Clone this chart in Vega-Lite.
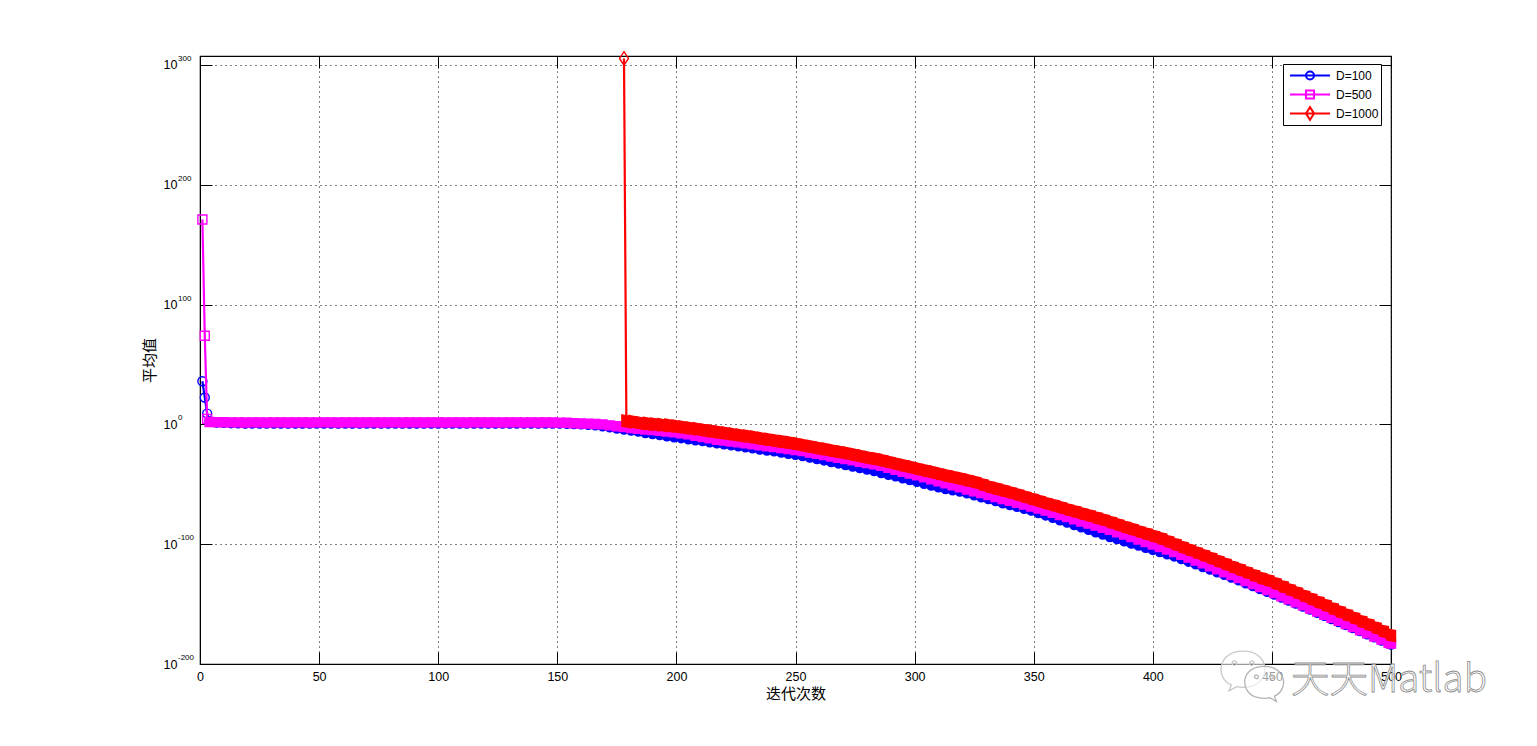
{"$schema":"https://vega.github.io/schema/vega-lite/v6.json","width":1191,"height":608,"autosize":"none","padding":{"left":200,"top":56,"right":146,"bottom":82},"background":"white",
"config":{"view":{"stroke":"#000","strokeWidth":1.2},"font":"Liberation Sans"},
"datasets":{
"d100":[{"i":1,"v":1e36},{"i":2,"v":3e22},{"i":3,"v":1e9},{"i":4,"v":2e2},{"i":7,"v":4e1},{"i":10,"v":2e1},{"i":13,"v":1e1},{"i":16,"v":8},{"i":19,"v":6},{"i":22,"v":6},{"i":25,"v":5},{"i":28,"v":6},{"i":31,"v":6},{"i":34,"v":5},{"i":37,"v":6},{"i":40,"v":6},{"i":43,"v":5},{"i":46,"v":6},{"i":49,"v":6},{"i":52,"v":5},{"i":55,"v":6},{"i":58,"v":6},{"i":61,"v":6},{"i":64,"v":5},{"i":67,"v":6},{"i":70,"v":6},{"i":73,"v":5},{"i":76,"v":6},{"i":79,"v":6},{"i":82,"v":5},{"i":85,"v":6},{"i":88,"v":6},{"i":91,"v":5},{"i":94,"v":6},{"i":97,"v":6},{"i":100,"v":5},{"i":103,"v":6},{"i":106,"v":6},{"i":109,"v":5},{"i":112,"v":6},{"i":115,"v":6},{"i":118,"v":5},{"i":121,"v":6},{"i":124,"v":5},{"i":127,"v":6},{"i":130,"v":6},{"i":133,"v":5},{"i":136,"v":5},{"i":139,"v":6},{"i":142,"v":5},{"i":145,"v":5},{"i":148,"v":5},{"i":151,"v":4},{"i":154,"v":3},{"i":157,"v":2},{"i":160,"v":1},{"i":163,"v":0.5},{"i":166,"v":0.15},{"i":169,"v":0.03},{"i":172,"v":4e-3},{"i":175,"v":4e-4},{"i":178,"v":5e-5},{"i":181,"v":6e-6},{"i":184,"v":1e-6},{"i":187,"v":6e-8},{"i":190,"v":1e-8},{"i":193,"v":1e-9},{"i":196,"v":1.3e-10},{"i":199,"v":1.6e-11},{"i":202,"v":3e-12},{"i":205,"v":4e-13},{"i":208,"v":5e-14},{"i":211,"v":1e-14},{"i":214,"v":1e-15},{"i":217,"v":1.6e-16},{"i":220,"v":2.5e-17},{"i":223,"v":3e-18},{"i":226,"v":5e-19},{"i":229,"v":8e-20},{"i":232,"v":1e-20},{"i":235,"v":1e-21},{"i":238,"v":1.6e-22},{"i":241,"v":3e-23},{"i":244,"v":3e-24},{"i":247,"v":3e-25},{"i":250,"v":4e-26},{"i":253,"v":4e-27},{"i":256,"v":2e-28},{"i":259,"v":1e-29},{"i":262,"v":8e-31},{"i":265,"v":3e-32},{"i":268,"v":2.5e-33},{"i":271,"v":1e-34},{"i":274,"v":6e-36},{"i":277,"v":3e-37},{"i":280,"v":2e-38},{"i":283,"v":1e-39},{"i":286,"v":2.5e-41},{"i":289,"v":1e-42},{"i":292,"v":4e-44},{"i":295,"v":1e-45},{"i":298,"v":4e-47},{"i":301,"v":1e-48},{"i":304,"v":2.5e-50},{"i":307,"v":1e-51},{"i":310,"v":3e-53},{"i":313,"v":1e-54},{"i":316,"v":1e-55},{"i":319,"v":1e-56},{"i":322,"v":2.5e-58},{"i":325,"v":6e-60},{"i":328,"v":1.6e-61},{"i":331,"v":4e-63},{"i":334,"v":1e-64},{"i":337,"v":1.6e-66},{"i":340,"v":5e-68},{"i":343,"v":1.3e-69},{"i":346,"v":4e-71},{"i":349,"v":1e-72},{"i":352,"v":1e-74},{"i":355,"v":1e-76},{"i":358,"v":1e-78},{"i":361,"v":1e-80},{"i":364,"v":1e-82},{"i":367,"v":1e-84},{"i":370,"v":1e-86},{"i":373,"v":1e-88},{"i":376,"v":1e-90},{"i":379,"v":1e-92},{"i":382,"v":1e-94},{"i":385,"v":1.6e-96},{"i":388,"v":2.5e-98},{"i":391,"v":4e-100},{"i":394,"v":6e-102},{"i":397,"v":1e-103},{"i":400,"v":1.6e-105},{"i":403,"v":2.5e-107},{"i":406,"v":4e-109},{"i":409,"v":6e-111},{"i":412,"v":4e-113},{"i":415,"v":2.5e-115},{"i":418,"v":1.6e-117},{"i":421,"v":1e-119},{"i":424,"v":6e-122},{"i":427,"v":4e-124},{"i":430,"v":2.5e-126},{"i":433,"v":1.6e-128},{"i":436,"v":6e-131},{"i":439,"v":2.5e-133},{"i":442,"v":1e-135},{"i":445,"v":4e-138},{"i":448,"v":1.6e-140},{"i":451,"v":1e-142},{"i":454,"v":2.5e-145},{"i":457,"v":1e-147},{"i":460,"v":2.5e-150},{"i":463,"v":1e-152},{"i":466,"v":2.5e-155},{"i":469,"v":6e-158},{"i":472,"v":1.6e-160},{"i":475,"v":4e-163},{"i":478,"v":1e-165},{"i":481,"v":4e-168},{"i":484,"v":1e-170},{"i":487,"v":2.5e-173},{"i":490,"v":6e-176},{"i":493,"v":1.6e-178},{"i":496,"v":4e-181},{"i":499,"v":1e-183},{"i":500,"v":1.6e-184}],
"d500":[{"i":1,"v":1e171},{"i":2,"v":1e74},{"i":3,"v":4e4},{"i":4,"v":1e2},{"i":7,"v":8e1},{"i":10,"v":6e1},{"i":13,"v":5e1},{"i":16,"v":5e1},{"i":19,"v":4e1},{"i":22,"v":5e1},{"i":25,"v":5e1},{"i":28,"v":4e1},{"i":31,"v":5e1},{"i":34,"v":5e1},{"i":37,"v":4e1},{"i":40,"v":5e1},{"i":43,"v":5e1},{"i":46,"v":4e1},{"i":49,"v":5e1},{"i":52,"v":5e1},{"i":55,"v":5e1},{"i":58,"v":4e1},{"i":61,"v":5e1},{"i":64,"v":5e1},{"i":67,"v":4e1},{"i":70,"v":5e1},{"i":73,"v":5e1},{"i":76,"v":4e1},{"i":79,"v":5e1},{"i":82,"v":5e1},{"i":85,"v":4e1},{"i":88,"v":5e1},{"i":91,"v":5e1},{"i":94,"v":4e1},{"i":97,"v":5e1},{"i":100,"v":5e1},{"i":103,"v":4e1},{"i":106,"v":5e1},{"i":109,"v":5e1},{"i":112,"v":4e1},{"i":115,"v":5e1},{"i":118,"v":5e1},{"i":121,"v":4e1},{"i":124,"v":5e1},{"i":127,"v":4e1},{"i":130,"v":5e1},{"i":133,"v":5e1},{"i":136,"v":4e1},{"i":139,"v":5e1},{"i":142,"v":4e1},{"i":145,"v":5e1},{"i":148,"v":4e1},{"i":151,"v":3e1},{"i":154,"v":2e1},{"i":157,"v":1e1},{"i":160,"v":6},{"i":163,"v":4},{"i":166,"v":2},{"i":169,"v":1},{"i":172,"v":0.16},{"i":175,"v":0.025},{"i":178,"v":5e-3},{"i":181,"v":1e-3},{"i":184,"v":2.5e-4},{"i":187,"v":6e-5},{"i":190,"v":1.6e-5},{"i":193,"v":4e-6},{"i":196,"v":1e-6},{"i":199,"v":3e-7},{"i":202,"v":4e-8},{"i":205,"v":5e-9},{"i":208,"v":3e-10},{"i":211,"v":3e-11},{"i":214,"v":2e-12},{"i":217,"v":1.6e-13},{"i":220,"v":3e-14},{"i":223,"v":5e-15},{"i":226,"v":1e-15},{"i":229,"v":1.3e-16},{"i":232,"v":2.5e-17},{"i":235,"v":4e-18},{"i":238,"v":6e-19},{"i":241,"v":1e-19},{"i":244,"v":1.6e-20},{"i":247,"v":2.5e-21},{"i":250,"v":4e-22},{"i":253,"v":5e-23},{"i":256,"v":2.5e-24},{"i":259,"v":2.5e-25},{"i":262,"v":2e-26},{"i":265,"v":1.6e-27},{"i":268,"v":1.3e-28},{"i":271,"v":1e-29},{"i":274,"v":1e-30},{"i":277,"v":6e-32},{"i":280,"v":6e-33},{"i":283,"v":4e-34},{"i":286,"v":2.5e-35},{"i":289,"v":6e-37},{"i":292,"v":1.3e-38},{"i":295,"v":3e-40},{"i":298,"v":8e-42},{"i":301,"v":2.5e-43},{"i":304,"v":6e-45},{"i":307,"v":1.6e-46},{"i":310,"v":3e-48},{"i":313,"v":8e-50},{"i":316,"v":1.6e-51},{"i":319,"v":2.5e-53},{"i":322,"v":5e-55},{"i":325,"v":1.3e-56},{"i":328,"v":4e-58},{"i":331,"v":1e-59},{"i":334,"v":2.5e-61},{"i":337,"v":6e-63},{"i":340,"v":1.6e-64},{"i":343,"v":4e-66},{"i":346,"v":1e-67},{"i":349,"v":3e-69},{"i":352,"v":6e-71},{"i":355,"v":1e-72},{"i":358,"v":1.6e-74},{"i":361,"v":2.5e-76},{"i":364,"v":4e-78},{"i":367,"v":6e-80},{"i":370,"v":1e-81},{"i":373,"v":1.6e-83},{"i":376,"v":3e-85},{"i":379,"v":6e-87},{"i":382,"v":1e-88},{"i":385,"v":1e-90},{"i":388,"v":1e-92},{"i":391,"v":1e-94},{"i":394,"v":6e-97},{"i":397,"v":6e-99},{"i":400,"v":5e-101},{"i":403,"v":5e-103},{"i":406,"v":4e-105},{"i":409,"v":3e-107},{"i":412,"v":1.6e-109},{"i":415,"v":6e-112},{"i":418,"v":2.5e-114},{"i":421,"v":1e-116},{"i":424,"v":3e-119},{"i":427,"v":1e-121},{"i":430,"v":4e-124},{"i":433,"v":1.6e-126},{"i":436,"v":6e-129},{"i":439,"v":2e-131},{"i":442,"v":6e-134},{"i":445,"v":2e-136},{"i":448,"v":6e-139},{"i":451,"v":1.6e-141},{"i":454,"v":4e-144},{"i":457,"v":1e-146},{"i":460,"v":3e-149},{"i":463,"v":1e-151},{"i":466,"v":2e-154},{"i":469,"v":5e-157},{"i":472,"v":1.3e-159},{"i":475,"v":4e-162},{"i":478,"v":1e-164},{"i":481,"v":2.5e-167},{"i":484,"v":6e-170},{"i":487,"v":1.6e-172},{"i":490,"v":4e-175},{"i":493,"v":1e-177},{"i":496,"v":2.5e-180},{"i":499,"v":6e-183},{"i":500,"v":1e-183}],
"d1000":[{"i":178,"v":3e305},{"i":179,"v":3e2},{"i":182,"v":1e2},{"i":185,"v":1e1},{"i":188,"v":3},{"i":191,"v":1},{"i":194,"v":0.3},{"i":197,"v":0.1},{"i":200,"v":0.02},{"i":203,"v":3e-3},{"i":206,"v":5e-4},{"i":209,"v":1e-4},{"i":212,"v":1e-5},{"i":215,"v":1.6e-6},{"i":218,"v":2e-7},{"i":221,"v":3e-8},{"i":224,"v":4e-9},{"i":227,"v":5e-10},{"i":230,"v":1e-10},{"i":233,"v":1e-11},{"i":236,"v":1e-12},{"i":239,"v":1.6e-13},{"i":242,"v":1.6e-14},{"i":245,"v":2.5e-15},{"i":248,"v":3e-16},{"i":251,"v":3e-17},{"i":254,"v":2e-18},{"i":257,"v":1.6e-19},{"i":260,"v":1e-20},{"i":263,"v":1e-21},{"i":266,"v":6e-23},{"i":269,"v":6e-24},{"i":272,"v":5e-25},{"i":275,"v":2.5e-26},{"i":278,"v":1.6e-27},{"i":281,"v":1e-28},{"i":284,"v":1e-29},{"i":287,"v":4e-31},{"i":290,"v":1.6e-32},{"i":293,"v":6e-34},{"i":296,"v":2.5e-35},{"i":299,"v":1e-36},{"i":302,"v":4e-38},{"i":305,"v":1.6e-39},{"i":308,"v":6e-41},{"i":311,"v":2.5e-42},{"i":314,"v":1e-43},{"i":317,"v":4e-45},{"i":320,"v":2.5e-46},{"i":323,"v":1e-47},{"i":326,"v":3e-49},{"i":329,"v":3e-51},{"i":332,"v":3e-53},{"i":335,"v":1e-54},{"i":338,"v":2.5e-56},{"i":341,"v":6e-58},{"i":344,"v":1e-59},{"i":347,"v":1.6e-61},{"i":350,"v":2.5e-63},{"i":353,"v":4e-65},{"i":356,"v":6e-67},{"i":359,"v":1.6e-68},{"i":362,"v":2.5e-70},{"i":365,"v":4e-72},{"i":368,"v":1e-73},{"i":371,"v":1.6e-75},{"i":374,"v":4e-77},{"i":377,"v":6e-79},{"i":380,"v":1e-80},{"i":383,"v":1e-82},{"i":386,"v":1e-84},{"i":389,"v":1e-86},{"i":392,"v":1.6e-88},{"i":395,"v":1.6e-90},{"i":398,"v":2.5e-92},{"i":401,"v":3e-94},{"i":404,"v":3e-96},{"i":407,"v":1e-98},{"i":410,"v":4e-101},{"i":413,"v":1.6e-103},{"i":416,"v":1e-105},{"i":419,"v":4e-108},{"i":422,"v":2.5e-110},{"i":425,"v":1e-112},{"i":428,"v":4e-115},{"i":431,"v":1.6e-117},{"i":434,"v":6e-120},{"i":437,"v":4e-122},{"i":440,"v":1.6e-124},{"i":443,"v":6e-127},{"i":446,"v":2.5e-129},{"i":449,"v":3e-131},{"i":452,"v":1e-133},{"i":455,"v":2.5e-136},{"i":458,"v":6e-139},{"i":461,"v":1.6e-141},{"i":464,"v":4e-144},{"i":467,"v":1e-146},{"i":470,"v":2.5e-149},{"i":473,"v":6e-152},{"i":476,"v":1e-154},{"i":479,"v":2.5e-157},{"i":482,"v":6e-160},{"i":485,"v":1.6e-162},{"i":488,"v":2.5e-165},{"i":491,"v":6e-168},{"i":494,"v":1e-170},{"i":497,"v":1.6e-173},{"i":500,"v":1e-176}],
"expTicks":[{"i":0,"v":1e300,"e":"300"},{"i":0,"v":1e200,"e":"200"},{"i":0,"v":1e100,"e":"100"},{"i":0,"v":1,"e":"0"},{"i":0,"v":1e-100,"e":"-100"},{"i":0,"v":1e-200,"e":"-200"}],
"mark1":[{"i":458,"v":2e-224,"label":"天天Matlab"}],
"icon1":[{"i":437.9,"v":3e-205}],
"icon2":[{"i":446.7,"v":4e-216}]
},
"encoding":{
"x":{"field":"i","type":"quantitative","scale":{"domain":[0,500],"nice":false,"zero":false},"axis":null},
"y":{"field":"v","type":"quantitative","scale":{"type":"log","base":10,"domain":[1e-200,3e307],"nice":false},"axis":null}
},
"layer":[
{"data":{"name":"d100"},"mark":{"type":"line","strokeWidth":2.2},
"encoding":{
"x":{"field":"i","type":"quantitative","axis":{"orient":"bottom","values":[0,50,100,150,200,250,300,350,400,450,500],"title":"迭代次数","titleFont":"Noto Sans CJK SC","titleFontSize":15,"titleFontWeight":"normal","titleColor":"#000","titlePadding":4,"grid":true,"gridColor":"#000","gridDash":[1,4],"gridOpacity":1,"tickSize":-12,"tickColor":"#000","domainColor":"#000","labelColor":"#000","labelFont":"Liberation Sans","labelFontSize":12.5,"labelPadding":18,"labelFlush":false,"labelOverlap":false}},
"y":{"field":"v","type":"quantitative","axis":{"orient":"left","values":[1e-200,1e-100,1,1e100,1e200,1e300],"labelExpr":"'10'","title":"平均值","titleFont":"Noto Sans CJK SC","titleFontSize":15,"titleFontWeight":"normal","titleColor":"#000","titlePadding":5.5,"grid":true,"gridColor":"#000","gridDash":[1,4],"gridOpacity":1,"tickSize":-12,"tickColor":"#000","domainColor":"#000","labelColor":"#000","labelFont":"Liberation Sans","labelFontSize":12.5,"labelPadding":35,"labelOverlap":false}},
"stroke":{"datum":"D=100","type":"nominal","scale":{"domain":["D=100","D=500","D=1000"],"range":["#0000ff","#ff00ff","#ff0000"]},"legend":{"orient":"none","legendX":1083,"legendY":8,"title":null,"fillColor":"white","strokeColor":"#000","padding":2,"symbolOffset":19,"labelOffset":20,"rowPadding":0,"clipHeight":19,"labelFont":"Liberation Sans","labelFontSize":12,"labelColor":"#000","symbolSize":64,"symbolStrokeWidth":2,"encode":{"symbols":{"update":{"fillOpacity":{"value":0},"shape":{"signal":"datum.value==='D=100'?'M-5,0L5,0M-1,0A1,1 0 1 1 1,0A1,1 0 1 1 -1,0Z':datum.value==='D=500'?'M-5,0L5,0M-1,-1L1,-1L1,1L-1,1Z':'M-5,0L5,0M0,-1.6L1,0L0,1.6L-1,0Z'"}}}}}}}},
{"data":{"name":"d100"},"mark":{"type":"point","filled":true,"opacity":1,"shape":"circle","size":81,"strokeWidth":1.4},
"encoding":{
"x":{"field":"i","type":"quantitative","axis":{"orient":"top","values":[0,50,100,150,200,250,300,350,400,450,500],"labels":false,"title":null,"grid":false,"domain":false,"tickSize":-12,"tickColor":"#000"}},
"y":{"field":"v","type":"quantitative","axis":{"orient":"right","values":[1e-200,1e-100,1,1e100,1e200,1e300],"labels":false,"title":null,"grid":false,"domain":false,"tickSize":-12,"tickColor":"#000"}},
"stroke":{"datum":"D=100","type":"nominal"},
"fill":{"datum":"D=100","type":"nominal","scale":{"domain":["D=100","D=500","D=1000"],"range":["#0000ff","#ff00ff","#ff0000"]},"legend":null},
"fillOpacity":{"condition":{"test":"datum.i<4||datum.v>1e50","value":0},"value":1}}},
{"data":{"name":"d500"},"mark":{"type":"line","strokeWidth":2.2},"encoding":{"stroke":{"datum":"D=500","type":"nominal"}}},
{"data":{"name":"d500"},"mark":{"type":"point","filled":true,"opacity":1,"shape":"square","size":81,"strokeWidth":1.4},"encoding":{"stroke":{"datum":"D=500","type":"nominal"},"fill":{"datum":"D=500","type":"nominal","legend":null},"fillOpacity":{"condition":{"test":"datum.i<4||datum.v>1e50","value":0},"value":1}}},
{"data":{"name":"d1000"},"mark":{"type":"line","strokeWidth":2.2},"encoding":{"stroke":{"datum":"D=1000","type":"nominal"}}},
{"data":{"name":"d1000"},"mark":{"type":"point","filled":true,"opacity":1,"size":81,"strokeWidth":1.4},"encoding":{"shape":{"condition":{"test":"datum.v>1e50","value":"M0,-1.5L1,0L0,1.5L-1,0Z"},"value":"M-1,-1.45L1,-1.05L1,1.45L-1,1.05Z"},"stroke":{"datum":"D=1000","type":"nominal"},"fill":{"datum":"D=1000","type":"nominal","legend":null},"fillOpacity":{"condition":{"test":"datum.i<4||datum.v>1e50","value":0},"value":1}}},
{"data":{"name":"expTicks"},"mark":{"type":"text","align":"left","baseline":"alphabetic","font":"Liberation Sans","fontSize":8,"fill":"#000","opacity":1,"dx":-22,"dy":-4},"encoding":{"text":{"field":"e","type":"nominal"}}},
{"data":{"name":"icon1"},"mark":{"type":"point","filled":true,"opacity":1,"shape":"M-0.55,0.72C-1.3,0.4,-1.2,-0.85,0,-0.85C1.2,-0.85,1.3,0.4,0.5,0.75C0.2,0.85,-0.1,0.85,-0.3,0.8L-0.65,1ZM-0.5,-0.3a0.1,0.1 0 1 0 0.2,0a0.1,0.1 0 1 0 -0.2,0ZM0.3,-0.3a0.1,0.1 0 1 0 0.2,0a0.1,0.1 0 1 0 -0.2,0Z","size":1849,"fill":"white","fillOpacity":0.6,"stroke":"#c8c8c8","strokeWidth":1.3}},
{"data":{"name":"icon2"},"mark":{"type":"point","filled":true,"opacity":1,"shape":"M0.55,0.72C1.3,0.4,1.2,-0.85,0,-0.85C-1.2,-0.85,-1.3,0.4,-0.5,0.75C-0.2,0.85,0.1,0.85,0.3,0.8L0.65,1ZM-0.5,-0.3a0.1,0.1 0 1 0 0.2,0a0.1,0.1 0 1 0 -0.2,0ZM0.3,-0.3a0.1,0.1 0 1 0 0.2,0a0.1,0.1 0 1 0 -0.2,0Z","size":1444,"fill":"white","fillOpacity":0.6,"stroke":"#b4b4b4","strokeWidth":1.3}},
{"data":{"name":"mark1"},"mark":{"type":"text","align":"left","baseline":"alphabetic","font":"Noto Sans CJK SC","fontSize":38.5,"fontWeight":300,"fill":"white","fillOpacity":0.8,"stroke":"#8c8c8c","strokeWidth":0.8},"encoding":{"text":{"field":"label","type":"nominal"}}}
],
"resolve":{"axis":{"x":"independent","y":"independent"}}}
